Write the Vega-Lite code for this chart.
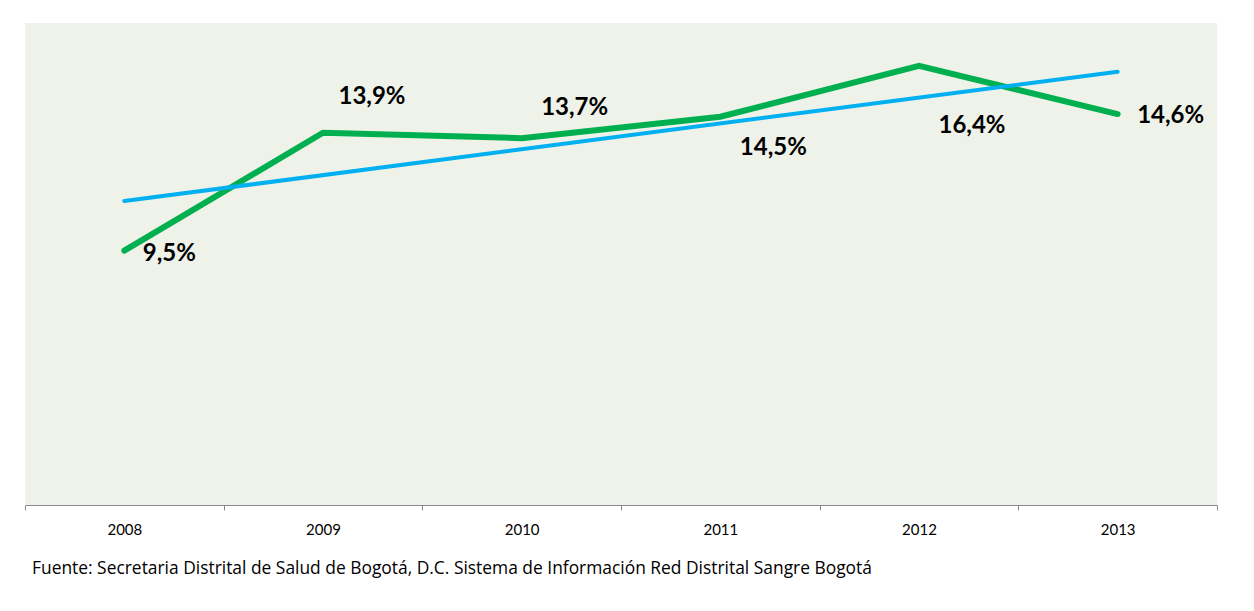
{
  "$schema": "https://vega.github.io/schema/vega-lite/v6.json",
  "autosize": "none",
  "width": 1192,
  "height": 482,
  "padding": {"left": 25, "top": 23, "right": 37, "bottom": 106},
  "background": "white",
  "config": {
    "view": {"fill": "#EFF2E9", "stroke": null},
    "font": "Lato"
  },
  "title": {
    "text": "Fuente: Secretaria Distrital de Salud de Bogotá, D.C. Sistema de Información Red Distrital Sangre Bogotá",
    "orient": "bottom",
    "anchor": "start",
    "frame": "group",
    "dx": 7,
    "offset": 23,
    "font": "Open Sans",
    "fontSize": 17.4,
    "fontWeight": "normal",
    "color": "#000000"
  },
  "data": {
    "values": [
      {"year": 2008, "value": 9.5, "label": "9,5%"},
      {"year": 2009, "value": 13.9, "label": "13,9%"},
      {"year": 2010, "value": 13.7, "label": "13,7%"},
      {"year": 2011, "value": 14.5, "label": "14,5%"},
      {"year": 2012, "value": 16.4, "label": "16,4%"},
      {"year": 2013, "value": 14.6, "label": "14,6%"}
    ]
  },
  "encoding": {
    "x": {
      "field": "year",
      "type": "ordinal",
      "scale": {"type": "band", "paddingInner": 0, "paddingOuter": 0},
      "axis": {
        "title": null,
        "labelAngle": 0,
        "tickBand": "extent",
        "tickSize": 5,
        "domainColor": "#898989",
        "tickColor": "#898989",
        "labelColor": "#000000",
        "labelFont": "Lato",
        "labelFontSize": 15,
        "labelPadding": 12
      }
    },
    "y": {
      "field": "value",
      "type": "quantitative",
      "scale": {"domain": [0, 18], "nice": false, "zero": true},
      "axis": null
    }
  },
  "layer": [
    {
      "mark": {"type": "line", "color": "#00B050", "strokeWidth": 6, "strokeCap": "round", "strokeJoin": "miter"}
    },
    {
      "transform": [{"regression": "value", "on": "year"}],
      "mark": {"type": "line", "color": "#00B0F0", "strokeWidth": 4, "strokeCap": "round"}
    },
    {
      "transform": [{"filter": "datum.year == 2008"}],
      "mark": {"type": "text", "font": "Lato", "fontWeight": "bold", "fontSize": 24, "align": "center", "baseline": "alphabetic", "dx": 45, "dy": 10, "color": "#000000"},
      "encoding": {"text": {"field": "label"}}
    },
    {
      "transform": [{"filter": "datum.year == 2009"}],
      "mark": {"type": "text", "font": "Lato", "fontWeight": "bold", "fontSize": 24, "align": "center", "baseline": "alphabetic", "dx": 49, "dy": -29, "color": "#000000"},
      "encoding": {"text": {"field": "label"}}
    },
    {
      "transform": [{"filter": "datum.year == 2010"}],
      "mark": {"type": "text", "font": "Lato", "fontWeight": "bold", "fontSize": 24, "align": "center", "baseline": "alphabetic", "dx": 53, "dy": -23, "color": "#000000"},
      "encoding": {"text": {"field": "label"}}
    },
    {
      "transform": [{"filter": "datum.year == 2011"}],
      "mark": {"type": "text", "font": "Lato", "fontWeight": "bold", "fontSize": 24, "align": "center", "baseline": "alphabetic", "dx": 53, "dy": 38, "color": "#000000"},
      "encoding": {"text": {"field": "label"}}
    },
    {
      "transform": [{"filter": "datum.year == 2012"}],
      "mark": {"type": "text", "font": "Lato", "fontWeight": "bold", "fontSize": 24, "align": "center", "baseline": "alphabetic", "dx": 53, "dy": 67, "color": "#000000"},
      "encoding": {"text": {"field": "label"}}
    },
    {
      "transform": [{"filter": "datum.year == 2013"}],
      "mark": {"type": "text", "font": "Lato", "fontWeight": "bold", "fontSize": 24, "align": "center", "baseline": "alphabetic", "dx": 53, "dy": 9, "color": "#000000"},
      "encoding": {"text": {"field": "label"}}
    }
  ]
}
